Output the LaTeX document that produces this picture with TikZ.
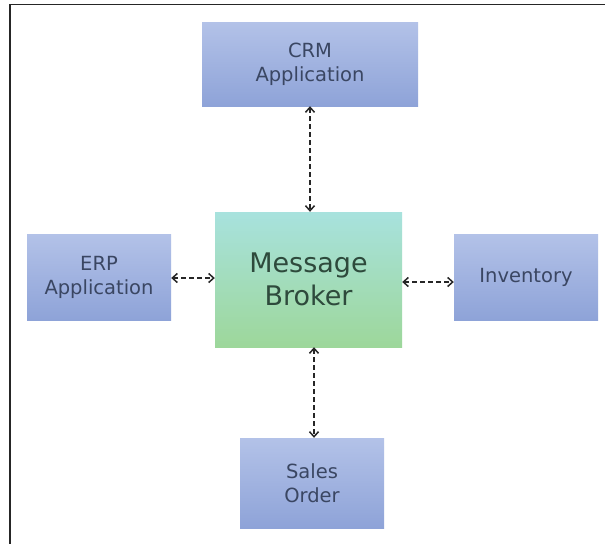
\documentclass[tikz,border=0pt]{standalone}
\usepackage{fontspec}
\setmainfont{DejaVu Sans}
\usetikzlibrary{arrows.meta}
\definecolor{bluetop}{HTML}{B3C2E8}
\definecolor{bluebot}{HTML}{8EA3D8}
\definecolor{greentop}{HTML}{A8E2DE}
\definecolor{greenbot}{HTML}{9DD79A}
\definecolor{bluetext}{HTML}{3A4662}
\definecolor{greentext}{HTML}{2E4A3C}
\tikzset{
  sysbox/.style={rectangle, top color=bluetop, bottom color=bluebot, draw=none,
    text=bluetext, font=\fontsize{19.5}{24}\selectfont, align=center, inner sep=0pt},
  brokerbox/.style={rectangle, top color=greentop, bottom color=greenbot, draw=none,
    text=greentext, font=\fontsize{27}{33}\selectfont, align=center, inner sep=0pt},
  link/.style={draw=black!85, line width=1.5pt, dash pattern=on 5pt off 3pt,
    {Straight Barb[length=5pt,width=9pt]}-{Straight Barb[length=5pt,width=9pt]}},
}
\begin{document}
\begin{tikzpicture}[x=1pt,y=-1pt]
\useasboundingbox (0,0) rectangle (605,544);
\fill[white] (0,0) rectangle (605,544);
\draw[line width=1.6pt, black!85] (605,4.5) -- (10,4.5) -- (10,544);
\node[sysbox, minimum width=216pt, minimum height=84pt] (crm) at (310,64) {CRM\\Application};
\node[brokerbox, minimum width=187pt, minimum height=135pt] (broker) at (308.5,279.5) {Message\\Broker};
\node[sysbox, minimum width=144pt, minimum height=86pt] (erp) at (99,277) {ERP\\Application};
\node[sysbox, minimum width=144pt, minimum height=86pt] (inv) at (526,277) {Inventory};
\node[sysbox, minimum width=144pt, minimum height=90pt] (sales) at (312,483) {Sales\\Order};
\draw[link] (crm.south -| 310,0) -- (broker.north -| 310,0);
\draw[link] (erp.east |- 0,278) -- (broker.west |- 0,278);
\draw[link] (broker.east |- 0,282) -- (inv.west |- 0,282);
\draw[link] (broker.south -| 314,0) -- (sales.north -| 314,0);
\end{tikzpicture}
\end{document}
